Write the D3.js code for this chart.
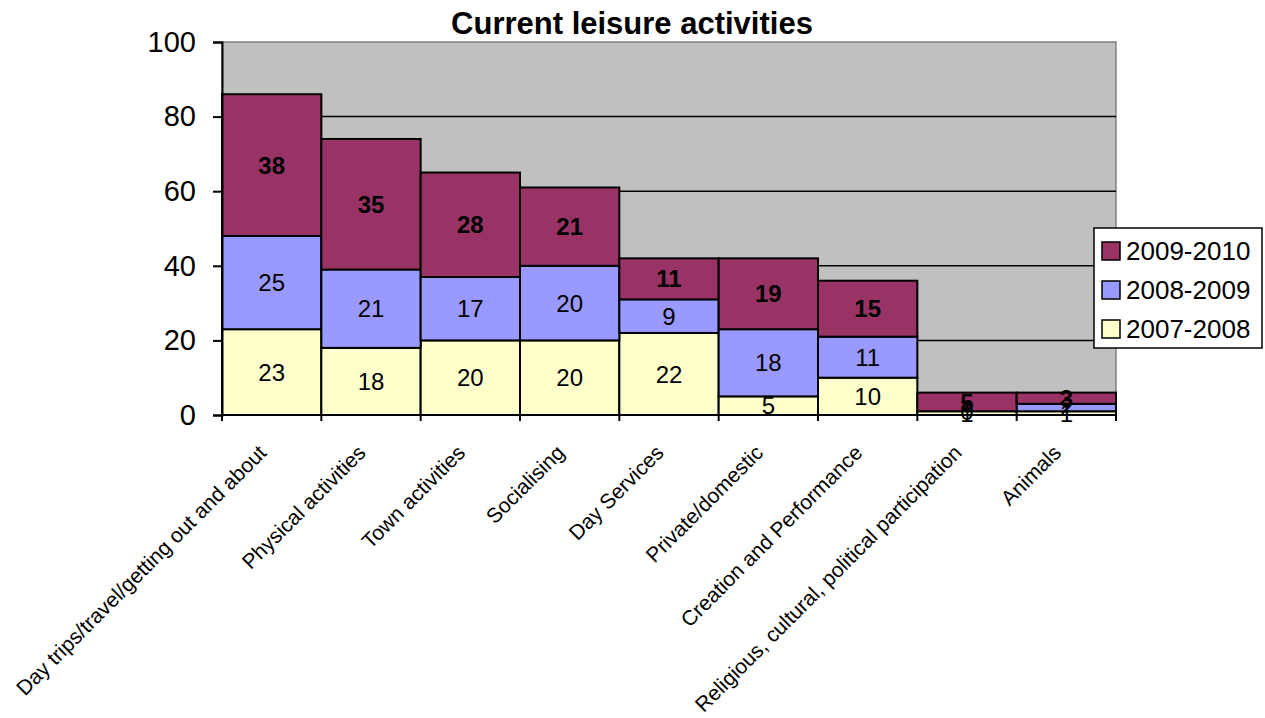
<!DOCTYPE html>
<html><head><meta charset="utf-8">
<script src="https://cdn.jsdelivr.net/npm/d3@7"></script>
<style>body{margin:0;background:#fff}svg{display:block;font-family:"Liberation Sans",Arial,sans-serif}</style>
</head><body><svg id="c" width="1265" height="718"></svg>
<script>
const categories = ["Day trips/travel/getting out and about","Physical activities","Town activities","Socialising","Day Services","Private/domestic","Creation and Performance","Religious, cultural, political participation","Animals"];
const seriesNames = ["2007-2008","2008-2009","2009-2010"];
const v2007 = [23,18,20,20,22,5,10,1,1];
const v2008 = [25,21,17,20,9,18,11,0,2];
const v2009 = [38,35,28,21,11,19,15,5,3];
const colors = ["#FFFFCC","#9999FF","#993366"];
const yTicks = [0,20,40,60,80,100];

const svg = d3.select("#c");
const L=222,R=1116,T=42,B=415;
const x = d3.scaleBand().domain(categories).range([L,R]).padding(0);
const y = d3.scaleLinear().domain([0,100]).range([B,T]);

svg.append("rect").attr("x",L).attr("y",T).attr("width",R-L).attr("height",B-T).attr("fill","#C0C0C0").attr("stroke","#808080").attr("stroke-width",1.5);
svg.append("g").selectAll("line").data(yTicks.filter(d=>d>0&&d<100)).join("line")
  .attr("x1",L).attr("x2",R).attr("y1",d=>y(d)).attr("y2",d=>y(d)).attr("stroke","#000").attr("stroke-width",1.5);

const rows = categories.map((c,i)=>({cat:c,"2007-2008":v2007[i],"2008-2009":v2008[i],"2009-2010":v2009[i]}));
const stack = d3.stack().keys(seriesNames)(rows);
stack.forEach((s,si)=>{
  const g = svg.append("g");
  g.selectAll("rect").data(s).join("rect")
    .attr("x",d=>x(d.data.cat)).attr("width",x.bandwidth())
    .attr("y",d=>y(d[1])).attr("height",d=>y(d[0])-y(d[1]))
    .attr("fill",colors[si]).attr("stroke","#000").attr("stroke-width",2);
});
stack.forEach((s,si)=>{
  svg.append("g").selectAll("text").data(s).join("text")
    .attr("x",d=>x(d.data.cat)+x.bandwidth()/2)
    .attr("y",d=>y((d[0]+d[1])/2))
    .attr("dy","0.36em").attr("text-anchor","middle")
    .attr("font-size",24).attr("font-weight",si===2?"bold":"normal").attr("fill","#000")
    .text(d=>d[1]-d[0]);
});

// axes
const ya = svg.append("g").attr("transform",`translate(${L},0)`)
  .call(d3.axisLeft(y).tickValues(yTicks).tickSize(9).tickPadding(17));
ya.select(".domain").attr("stroke","#000").attr("stroke-width",2);
ya.selectAll(".tick line").attr("stroke","#000").attr("stroke-width",2);
ya.selectAll("text").attr("font-size",29).attr("font-family","Liberation Sans, Arial, sans-serif").attr("fill","#000");

const xa = svg.append("g").attr("transform",`translate(0,${B})`);
xa.append("line").attr("x1",L).attr("x2",R).attr("stroke","#000").attr("stroke-width",2);
xa.selectAll("line.t").data(d3.range(categories.length+1)).join("line").attr("class","t")
  .attr("x1",i=>L+i*x.step()).attr("x2",i=>L+i*x.step()).attr("y1",0).attr("y2",6).attr("stroke","#000").attr("stroke-width",2);
xa.selectAll("text").data(categories).join("text")
  .attr("transform",d=>`translate(${x(d)+x.bandwidth()/2-4},${39}) rotate(-45)`)
  .attr("text-anchor","end").attr("font-size",21).attr("fill","#000").text(d=>d);

svg.append("text").attr("x",632).attr("y",34).attr("text-anchor","middle")
  .attr("font-size",31).attr("font-weight","bold").text("Current leisure activities");

// legend
const lg = svg.append("g");
lg.append("rect").attr("x",1094).attr("y",228).attr("width",168).attr("height",120).attr("fill","#fff").attr("stroke","#000").attr("stroke-width",1.5);
const legItems = seriesNames.slice().reverse();
legItems.forEach((n,i)=>{
  const cy = 251+i*39;
  lg.append("rect").attr("x",1102).attr("y",cy-9).attr("width",18).attr("height",18)
    .attr("fill",colors[seriesNames.indexOf(n)]).attr("stroke","#000").attr("stroke-width",1.5);
  lg.append("text").attr("x",1126).attr("y",cy).attr("dy","0.36em").attr("font-size",26).text(n);
});
</script></body></html>
